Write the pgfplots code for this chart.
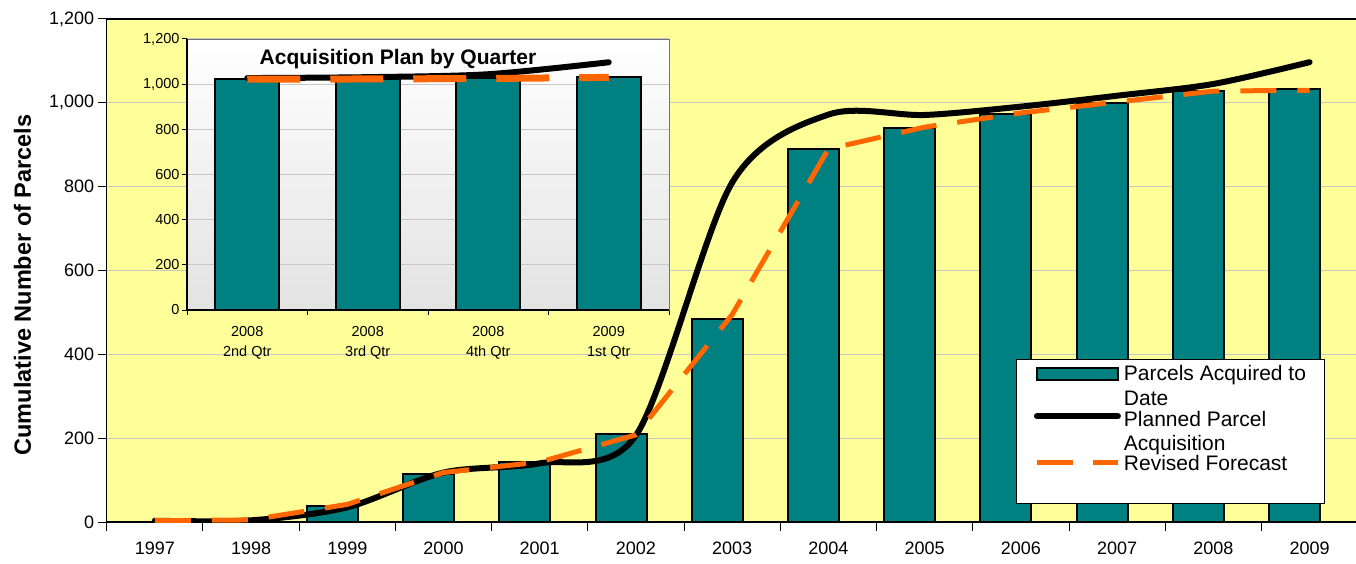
\documentclass[border=0pt]{standalone}
\usepackage{fontspec}
\setmainfont{Liberation Sans}
\usepackage{pgfplots}
\pgfplotsset{compat=1.18}
\definecolor{bgyellow}{HTML}{FFFF99}
\definecolor{barteal}{HTML}{008080}
\definecolor{fcorange}{HTML}{FF6600}
\definecolor{gridgray}{HTML}{C8C8C8}
\begin{document}
\begin{tikzpicture}
\begin{axis}[
  at={(106.7pt,41pt)}, anchor=south west,
  scale only axis, width=1251pt, height=503pt,
  xmin=-0.5, xmax=12.5, ymin=0, ymax=1200,
  xtick={0,...,12},
  xticklabels={1997,1998,1999,2000,2001,2002,2003,2004,2005,2006,2007,2008,2009},
  minor xtick={-0.5,0.5,...,12.5},
  ytick={0,200,...,1200},
  xtick pos=bottom, ytick pos=left,
  ymajorgrids, grid style={gridgray, line width=1.2pt},
  major x tick style={draw=none},
  tick align=outside, major tick length=9pt, minor tick length=9pt,
  tick style={black, line width=1pt},
  axis line style={black, line width=1.2pt},
  axis background/.style={fill=bgyellow},
  /pgf/number format/assume math mode=true,
  /pgf/number format/1000 sep={,},
  tick label style={font=\fontsize{18}{21}\selectfont},
  xticklabel style={yshift=-7pt},
  ylabel={Cumulative Number of Parcels},
  every axis y label/.style={at={(axis description cs:-0.0673,0.4712)}, rotate=90, anchor=center, font=\bfseries\fontsize{23.5}{28}\selectfont},
  legend style={at={(0.7272,0.3241)}, anchor=north west, draw=black, line width=1pt, fill=white,
    inner xsep=17pt, inner ysep=6.5pt, font=\fontsize{21}{24.5}\selectfont,
    nodes={inner sep=0pt, text depth=, text height=}, cells={anchor=base west}, column sep=3pt, row sep=0pt},
]
\addplot[ybar, bar width=0.53, bar shift=-0.155, fill=barteal, draw=black, line width=2pt,
  legend image code/.code={\draw[fill=barteal, draw=black, line width=2pt] (0pt,0.5pt) rectangle (81pt,13pt);}]
  coordinates {(2,38) (3,115) (4,142) (5,210) (6,484) (7,889) (8,940) (9,973) (10,1000) (11,1028) (12,1032)};
\addlegendentry{\makebox[184pt][l]{\smash{\begin{tabular}[t]{@{}l@{}}Parcels Acquired to\\Date\end{tabular}}}\rule[-30.3pt]{0pt}{45.3pt}}
\addplot[black, line width=6pt, line cap=round, smooth, tension=0.5,
  legend image code/.code={\draw[black, line width=6pt, line cap=round] (0pt,10pt) -- (81pt,10pt);}]
  coordinates {(0,3) (1,4) (2,35) (3,118) (4,140) (5,207) (6,810) (7,972) (8,971) (9,991) (10,1017) (11,1045) (12,1097)};
\addlegendentry{\makebox[184pt][l]{\smash{\begin{tabular}[t]{@{}l@{}}Planned Parcel\\Acquisition\end{tabular}}}\rule[-29pt]{0pt}{44pt}}
\addplot[fcorange, line width=5pt, dash pattern=on 36pt off 21pt,
  legend image code/.code={\draw[fcorange, line width=5pt, dash pattern=on 36pt off 20pt] (0pt,8.3pt) -- (81pt,8.3pt);}]
  coordinates {(0,3) (1,5) (2,42) (3,118) (4,143) (5,208) (6,495) (7,890) (8,942) (9,976) (10,1002) (11,1028) (12,1030)};
\addlegendentry{\makebox[184pt][l]{Revised Forecast}\rule[-26.5pt]{0pt}{41.5pt}}
\end{axis}

\begin{axis}[
  at={(187pt,253pt)}, anchor=south west, scale only axis, width=482pt, height=271pt,
  xmin=-0.5, xmax=3.5, ymin=0, ymax=1200,
  xtick={0,1,2,3},
  xticklabels={{2008\\2nd Qtr},{2008\\3rd Qtr},{2008\\4th Qtr},{2009\\1st Qtr}},
  xticklabel style={align=center, font=\fontsize{14.5}{20}\selectfont, yshift=-8pt},
  minor xtick={-0.5,0.5,...,3.5},
  xtick pos=bottom, ytick pos=left,
  major x tick style={draw=none},
  ytick={0,200,...,1200},
  ymajorgrids, grid style={gridgray, line width=1pt},
  tick align=outside, major tick length=5pt, minor tick length=5pt,
  tick style={black, line width=1pt},
  axis line style={draw=black!55, line width=0.8pt},
  axis background/.style={top color=white, bottom color=black!11},
  /pgf/number format/assume math mode=true, /pgf/number format/1000 sep={,},
  yticklabel style={font=\fontsize{14.5}{17}\selectfont, xshift=1pt},
  title={Acquisition Plan by Quarter},
  title style={at={(axis description cs:0.4378,0.904)}, anchor=center, yshift=0pt, font=\bfseries\fontsize{21}{25}\selectfont},
  after end axis/.code={\draw[black, line width=1.2pt] (rel axis cs:0,1) -- (rel axis cs:0,0) -- (rel axis cs:1,0);},
]
\addplot[ybar, bar width=0.53, bar shift=0, fill=barteal, draw=black, line width=1.8pt]
  coordinates {(0,1023) (1,1025) (2,1027) (3,1030)};
\addplot[black, line width=6pt, line cap=round, smooth, tension=0.5]
  coordinates {(0,1027) (1,1031) (2,1044) (3,1097)};
\addplot[fcorange, line width=7pt, dash pattern=on 53pt off 30pt]
  coordinates {(0,1022) (1,1023) (2,1025) (3,1030)};
\end{axis}
\pgfresetboundingbox
\path[use as bounding box] (0,0) rectangle (1356pt,563pt);
\end{tikzpicture}
\end{document}
